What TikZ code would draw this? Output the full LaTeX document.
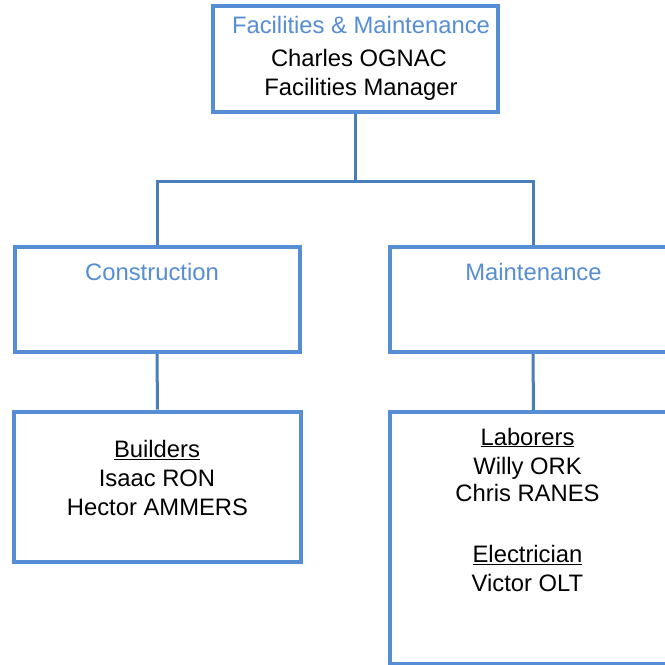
\documentclass[tikz,border=0pt]{standalone}
\usepackage{fontspec}
\setmainfont{Liberation Sans}
\definecolor{boxblue}{RGB}{85,142,213}
\definecolor{linkblue}{RGB}{74,126,187}
\definecolor{titleblue}{RGB}{85,142,213}
\tikzset{
  orgbox/.style={draw=boxblue, line width=4pt, rectangle, inner sep=0pt, fill=white},
  link/.style={draw=linkblue, line width=3pt},
  txt/.style={anchor=base, inner sep=0pt, font=\fontsize{23.8}{28.5}\selectfont},
  ttl/.style={txt, text=titleblue}
}
\begin{document}
\begin{tikzpicture}[x=1pt,y=-1pt]
\useasboundingbox (0,0) rectangle (665,665);
\clip (0,0) rectangle (665,665);
\fill[white] (0,0) rectangle (665,665);
% boxes
\node[orgbox, minimum width=285pt, minimum height=106pt] (top) at (355.5,59) {};
\node[orgbox, minimum width=285pt, minimum height=105pt] (cons) at (157,299.5) {};
\node[orgbox, minimum width=286pt, minimum height=105pt] (maint) at (533,299.5) {};
\node[orgbox, minimum width=287pt, minimum height=150pt] (build) at (157.5,486.7) {};
\node[orgbox, minimum width=287pt, minimum height=252pt] (labor) at (533.5,538) {};
% connectors
\draw[link] (top.south) -- ++(0,67.5) -| (cons.north);
\draw[link] (top.south) -- ++(0,67.5) -| (maint.north);
\draw[link] (cons.south) -- (build.north);
\draw[link] (maint.south) -- (labor.north);
% texts
\node[ttl] (t1) at (361,33.5) {Facilities \& Maintenance};
\node[txt] (t2) at (359,66.7) {Charles OGNAC};
\node[txt] (t3) at (361,95.5) {Facilities Manager};
\node[ttl] (c1) at (152,280) {Construction};
\node[ttl] (m1) at (533.5,280) {Maintenance};
\node[txt] (b1) at (157,457.5) {\underline{Builders}};
\node[txt] (b2) at (157,486.5) {Isaac RON};
\node[txt] (b3) at (157.5,515) {Hector AMMERS};
\node[txt] (l1) at (527.5,445) {\underline{Laborers}};
\node[txt] (l2) at (527.5,474) {Willy ORK};
\node[txt] (l3) at (527.5,501.7) {Chris RANES};
\node[txt] (l4) at (527.5,562.5) {\underline{Electrician}};
\node[txt] (l5) at (527.5,591) {Victor OLT};
\end{tikzpicture}
\end{document}
